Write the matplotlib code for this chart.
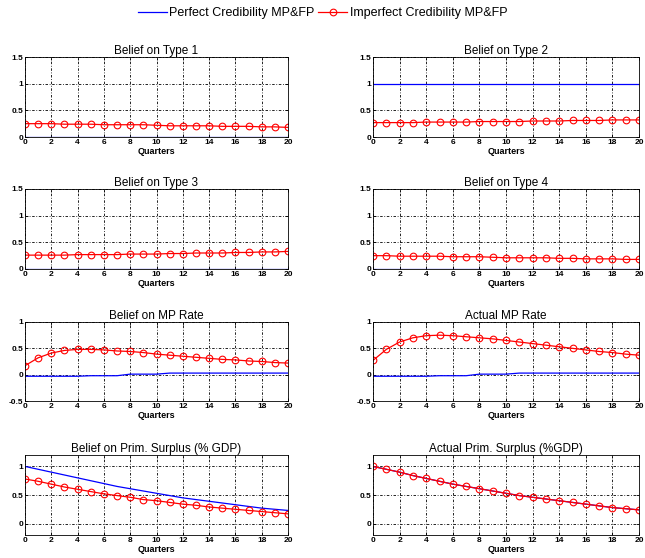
import matplotlib
matplotlib.use("Agg")
import matplotlib.pyplot as plt
import numpy as np

plt.rcParams['font.family'] = ['Liberation Sans', 'DejaVu Sans']

quarters = list(range(21))

titles = ["Belief on Type 1", "Belief on Type 2", "Belief on Type 3", "Belief on Type 4",
          "Belief on MP Rate", "Actual MP Rate",
          "Belief on Prim. Surplus (% GDP)", "Actual Prim. Surplus (%GDP)"]

perfect_type1 = [0.0] * 21
imperfect_type1 = [0.25, 0.25, 0.25, 0.24, 0.24, 0.24, 0.23, 0.23, 0.23, 0.23, 0.22,
                   0.21, 0.21, 0.21, 0.21, 0.20, 0.20, 0.20, 0.19, 0.19, 0.18]
perfect_type2 = [1.0] * 21
imperfect_type2 = [0.27, 0.27, 0.27, 0.27, 0.28, 0.28, 0.28, 0.28, 0.29, 0.29, 0.29,
                   0.29, 0.30, 0.30, 0.30, 0.31, 0.31, 0.31, 0.32, 0.32, 0.32]
perfect_type3 = [0.0] * 21
imperfect_type3 = [0.26, 0.26, 0.26, 0.26, 0.27, 0.27, 0.27, 0.27, 0.28, 0.28, 0.28,
                   0.29, 0.29, 0.30, 0.30, 0.30, 0.31, 0.31, 0.32, 0.32, 0.33]
perfect_type4 = [0.0] * 21
imperfect_type4 = [0.25, 0.25, 0.24, 0.24, 0.24, 0.24, 0.23, 0.23, 0.23, 0.22, 0.21,
                   0.21, 0.21, 0.21, 0.20, 0.20, 0.19, 0.19, 0.19, 0.18, 0.18]
perfect_belief_mp = [-0.03, -0.03, -0.03, -0.03, -0.03, -0.02, -0.02, -0.02, 0.01, 0.01, 0.01,
                     0.03, 0.03, 0.03, 0.03, 0.03, 0.03, 0.03, 0.03, 0.03, 0.03]
imperfect_belief_mp = [0.17, 0.32, 0.41, 0.46, 0.48, 0.48, 0.47, 0.45, 0.44, 0.42, 0.39,
                       0.37, 0.35, 0.33, 0.31, 0.29, 0.28, 0.26, 0.25, 0.23, 0.22]
perfect_actual_mp = [-0.03, -0.03, -0.03, -0.03, -0.03, -0.02, -0.02, -0.02, 0.01, 0.01, 0.01,
                     0.03, 0.03, 0.03, 0.03, 0.03, 0.03, 0.03, 0.03, 0.03, 0.03]
imperfect_actual_mp = [0.27, 0.48, 0.62, 0.70, 0.74, 0.75, 0.74, 0.72, 0.70, 0.68, 0.65,
                       0.62, 0.59, 0.56, 0.53, 0.50, 0.47, 0.44, 0.42, 0.39, 0.37]
perfect_belief_ps = [1.00, 0.95, 0.90, 0.85, 0.80, 0.75, 0.70, 0.65, 0.61, 0.57, 0.53,
                     0.49, 0.45, 0.42, 0.39, 0.36, 0.33, 0.30, 0.27, 0.25, 0.23]
imperfect_belief_ps = [0.78, 0.74, 0.69, 0.64, 0.60, 0.56, 0.52, 0.49, 0.46, 0.42, 0.40,
                       0.37, 0.34, 0.32, 0.29, 0.27, 0.25, 0.23, 0.21, 0.19, 0.17]
perfect_actual_ps = [1.00, 0.95, 0.90, 0.84, 0.79, 0.74, 0.69, 0.65, 0.61, 0.57, 0.53,
                     0.49, 0.46, 0.43, 0.40, 0.37, 0.34, 0.31, 0.28, 0.26, 0.24]
imperfect_actual_ps = [1.00, 0.95, 0.90, 0.84, 0.79, 0.74, 0.69, 0.65, 0.61, 0.57, 0.53,
                       0.49, 0.46, 0.43, 0.40, 0.37, 0.34, 0.31, 0.28, 0.26, 0.24]

perfect = [perfect_type1, perfect_type2, perfect_type3, perfect_type4,
           perfect_belief_mp, perfect_actual_mp, perfect_belief_ps, perfect_actual_ps]
imperfect = [imperfect_type1, imperfect_type2, imperfect_type3, imperfect_type4,
             imperfect_belief_mp, imperfect_actual_mp, imperfect_belief_ps, imperfect_actual_ps]

ylims = [(0, 1.5)] * 4 + [(-0.5, 1)] * 2 + [(-0.2, 1.2)] * 2
yticks = [[0, 0.5, 1, 1.5]] * 4 + [[-0.5, 0, 0.5, 1]] * 2 + [[0, 0.5, 1]] * 2
ytlabels = [["0", "0.5", "1", "1.5"]] * 4 + [["-0.5", "0", "0.5", "1"]] * 2 + [["0", "0.5", "1"]] * 2

W, H = 645, 558
fig = plt.figure(figsize=(W / 100, H / 100), dpi=100)

col_x = [(25, 288), (373, 639)]
row_y = [(57, 137), (189, 269), (322, 401), (455, 535)]

handles = None
for i in range(8):
    r, c = divmod(i, 2)
    x0, x1 = col_x[c]
    y0, y1 = row_y[r]
    ax = fig.add_axes([x0 / W, 1 - y1 / H, (x1 - x0) / W, (y1 - y0) / H])
    hb, = ax.plot(quarters, perfect[i], color='blue', lw=0.9)
    hr, = ax.plot(quarters, imperfect[i], color='red', lw=0.9, marker='o', ms=4.8,
                  mfc='none', mec='red', mew=0.8)
    handles = (hb, hr)
    ax.set_xlim(0, 20)
    ax.set_ylim(*ylims[i])
    ax.set_xticks(range(0, 21, 2))
    ax.set_xticklabels([str(v) for v in range(0, 21, 2)], fontsize=6, fontweight='bold')
    ax.set_yticks(yticks[i])
    ax.set_yticklabels(ytlabels[i], fontsize=6, fontweight='bold')
    ax.tick_params(axis='both', direction='in', length=2, width=0.6, pad=1.5,
                   top=True, right=True)
    ax.grid(True, color='black', linestyle=(0, (3, 2, 1, 2)), linewidth=0.6)
    for s in ax.spines.values():
        s.set_linewidth(0.6)
    ax.set_title(titles[i], fontsize=8.5, fontweight='normal', pad=2)
    ax.set_xlabel("Quarters", fontsize=6.5, fontweight='bold', labelpad=1)

fig.legend(handles, ["Perfect Credibility MP&FP", "Imperfect Credibility MP&FP"],
           loc='center', bbox_to_anchor=(0.5, 1 - 13 / H), ncol=2, frameon=False,
           fontsize=9, handlelength=2.3, columnspacing=0.3, handletextpad=0.2)

fig.savefig("out.png", dpi=100)
